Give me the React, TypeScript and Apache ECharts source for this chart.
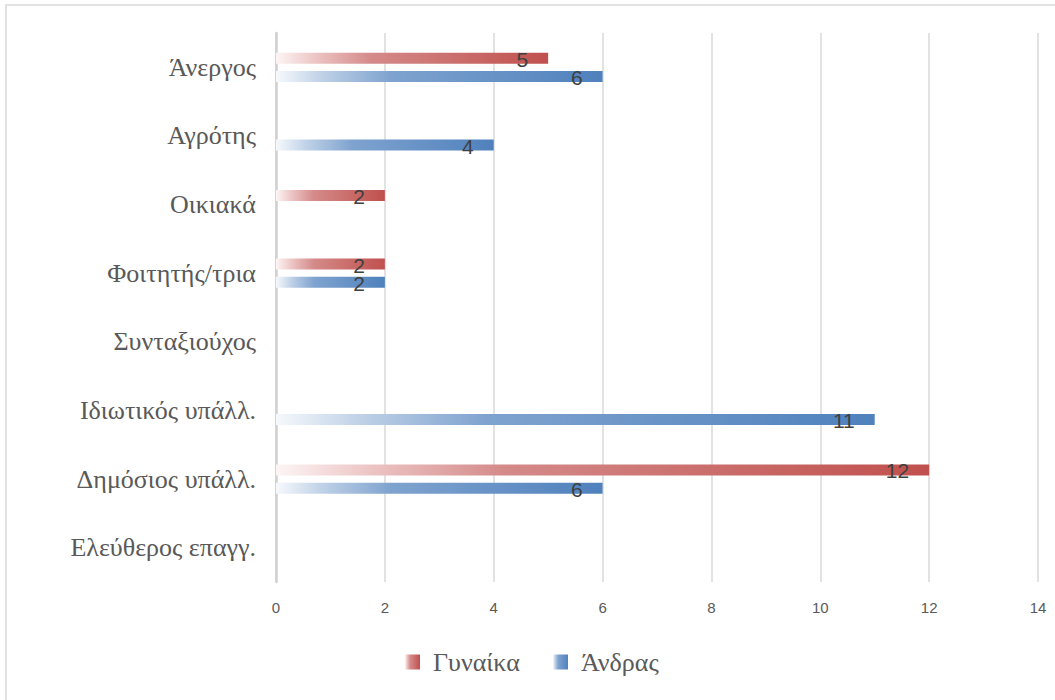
import React, { useEffect, useRef } from "react";
import * as echarts from "echarts";

const categories = [
  "Ελεύθερος επαγγ.",
  "Δημόσιος υπάλλ.",
  "Ιδιωτικός υπάλλ.",
  "Συνταξιούχος",
  "Φοιτητής/τρια",
  "Οικιακά",
  "Αγρότης",
  "Άνεργος",
];
const women: (number | null)[] = [null, 12, null, null, 2, 2, null, 5];
const men: (number | null)[] = [null, 6, 11, null, 2, null, 4, 6];
const seriesNames = ["Γυναίκα", "Άνδρας"];
const xTicks = { min: 0, max: 14, interval: 2 };

const SERIF = "'Liberation Serif', 'DejaVu Serif', serif";
const SANS = "'Liberation Sans', Arial, sans-serif";

const redGrad = () =>
  new echarts.graphic.LinearGradient(0, 0, 1, 0, [
    { offset: 0, color: "#fdf5f5" },
    { offset: 0.15, color: "#ecc3c3" },
    { offset: 0.35, color: "#d48a89" },
    { offset: 1, color: "#c0504d" },
  ]);
const blueGrad = () =>
  new echarts.graphic.LinearGradient(0, 0, 1, 0, [
    { offset: 0, color: "#f6f9fc" },
    { offset: 0.15, color: "#bccfe6" },
    { offset: 0.35, color: "#7fa3cf" },
    { offset: 1, color: "#4f81bd" },
  ]);

export default function App() {
  const ref = useRef<HTMLDivElement>(null);
  useEffect(() => {
    if (!ref.current) return;
    const chart = echarts.init(ref.current, null, { renderer: "svg" });
    const label = {
      show: true,
      position: "insideRight",
      distance: 20,
      offset: [0, 1],
      color: "#404040",
      fontFamily: SANS,
      fontSize: 21,
    };
    const legendText = {
      fontFamily: SERIF,
      fontSize: 26,
      color: "#595959",
      padding: [0, 0, 0, 8],
    };
    chart.setOption({
      animation: false,
      backgroundColor: "#ffffff",
      graphic: [
        {
          type: "rect",
          shape: { x: 6, y: 5, width: 1100, height: 800 },
          style: { fill: "none", stroke: "#d9d9d9", lineWidth: 1.5 },
          silent: true,
        },
      ],
      grid: { left: 276, right: 17, top: 33, bottom: 118, containLabel: false },
      legend: [
        {
          data: [seriesNames[0]],
          icon: "rect",
          bottom: 20,
          left: 400,
          itemWidth: 15,
          itemHeight: 15,
          textStyle: legendText,
        },
        {
          data: [seriesNames[1]],
          icon: "rect",
          bottom: 20,
          left: 548,
          itemWidth: 15,
          itemHeight: 15,
          textStyle: legendText,
        },
      ],
      xAxis: {
        type: "value",
        min: xTicks.min,
        max: xTicks.max,
        interval: xTicks.interval,
        axisLine: { show: false },
        axisTick: { show: false },
        axisLabel: {
          margin: 18,
          color: "#595959",
          fontFamily: SANS,
          fontSize: 15,
        },
        splitLine: { show: true, lineStyle: { color: "#d9d9d9", width: 1.5 } },
      },
      yAxis: {
        type: "category",
        data: categories,
        axisLine: { show: true, lineStyle: { color: "#d0d0d0", width: 2.5 } },
        axisTick: { show: false },
        axisLabel: {
          margin: 20,
          color: "#595959",
          fontFamily: SERIF,
          fontSize: 26,
        },
        splitLine: { show: false },
      },
      series: [
        {
          name: seriesNames[0],
          type: "bar",
          data: women,
          barWidth: 11,
          barGap: "66%",
          itemStyle: { color: redGrad() },
          label,
        },
        {
          name: seriesNames[1],
          type: "bar",
          data: men,
          barWidth: 11,
          barGap: "66%",
          itemStyle: { color: blueGrad() },
          label,
        },
      ],
    });
    return () => chart.dispose();
  }, []);
  return (
    <div
      ref={ref}
      style={{ position: "fixed", left: 0, top: 0, width: 1055, height: 700 }}
    />
  );
}
